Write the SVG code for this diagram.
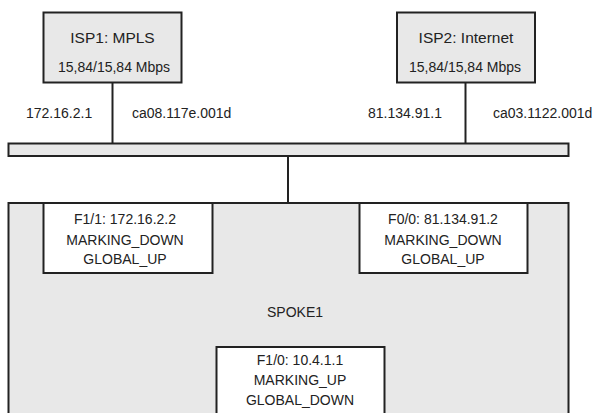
<svg xmlns="http://www.w3.org/2000/svg" width="600" height="413" viewBox="0 0 600 413">
  <style>
    .box { fill: #e8e8e8; stroke: #222; stroke-width: 2; }
    .port { fill: #fff; stroke: #222; stroke-width: 2; }
    .wire { stroke: #222; stroke-width: 2; fill: none; }
    text { font-family: "Liberation Sans", Arial, sans-serif; fill: #222; font-size: 14px; }
    .mid { text-anchor: middle; }
    .title { font-size: 15.5px; }
  </style>
  <rect width="600" height="413" fill="#fff"/>

  <!-- links between ISPs, the shared segment and the spoke router -->
  <g id="connectors">
    <line class="wire" x1="112.5" y1="83" x2="112.5" y2="143"/>
    <line class="wire" x1="465.5" y1="83" x2="465.5" y2="143"/>
    <line class="wire" x1="288" y1="156" x2="288" y2="203"/>
  </g>

  <g id="isp1">
    <rect class="box" x="43.5" y="12.5" width="138" height="70"/>
    <text class="mid title" x="112.5" y="43">ISP1: MPLS</text>
    <text class="mid" x="114" y="72">15,84/15,84 Mbps</text>
  </g>

  <g id="isp2">
    <rect class="box" x="397" y="12.5" width="138" height="70"/>
    <text class="mid title" x="466" y="43">ISP2: Internet</text>
    <text class="mid" x="465" y="72">15,84/15,84 Mbps</text>
  </g>

  <g id="labels">
    <text x="26" y="118">172.16.2.1</text>
    <text x="132" y="118">ca08.117e.001d</text>
    <text x="368" y="118">81.134.91.1</text>
    <text x="493" y="118">ca03.1122.001d</text>
  </g>

  <g id="segment">
    <rect class="box" x="8.5" y="143.5" width="560" height="12.5"/>
  </g>

  <g id="spoke1">
    <rect class="box" x="8.5" y="203" width="560" height="220"/>
    <text class="mid" x="295" y="317">SPOKE1</text>
  </g>

  <g id="f1-1">
    <rect class="port" x="43.5" y="203" width="169" height="70"/>
    <text class="mid" x="125" y="224">F1/1: 172.16.2.2</text>
    <text class="mid" x="125" y="245">MARKING_DOWN</text>
    <text class="mid" x="125" y="264">GLOBAL_UP</text>
  </g>

  <g id="f0-0">
    <rect class="port" x="359.5" y="203" width="168" height="70"/>
    <text class="mid" x="443" y="224">F0/0: 81.134.91.2</text>
    <text class="mid" x="443" y="245">MARKING_DOWN</text>
    <text class="mid" x="443" y="264">GLOBAL_UP</text>
  </g>

  <g id="f1-0">
    <rect class="port" x="216.5" y="347" width="168" height="80"/>
    <text class="mid" x="300" y="365">F1/0: 10.4.1.1</text>
    <text class="mid" x="300" y="385">MARKING_UP</text>
    <text class="mid" x="300" y="405">GLOBAL_DOWN</text>
  </g>
</svg>
